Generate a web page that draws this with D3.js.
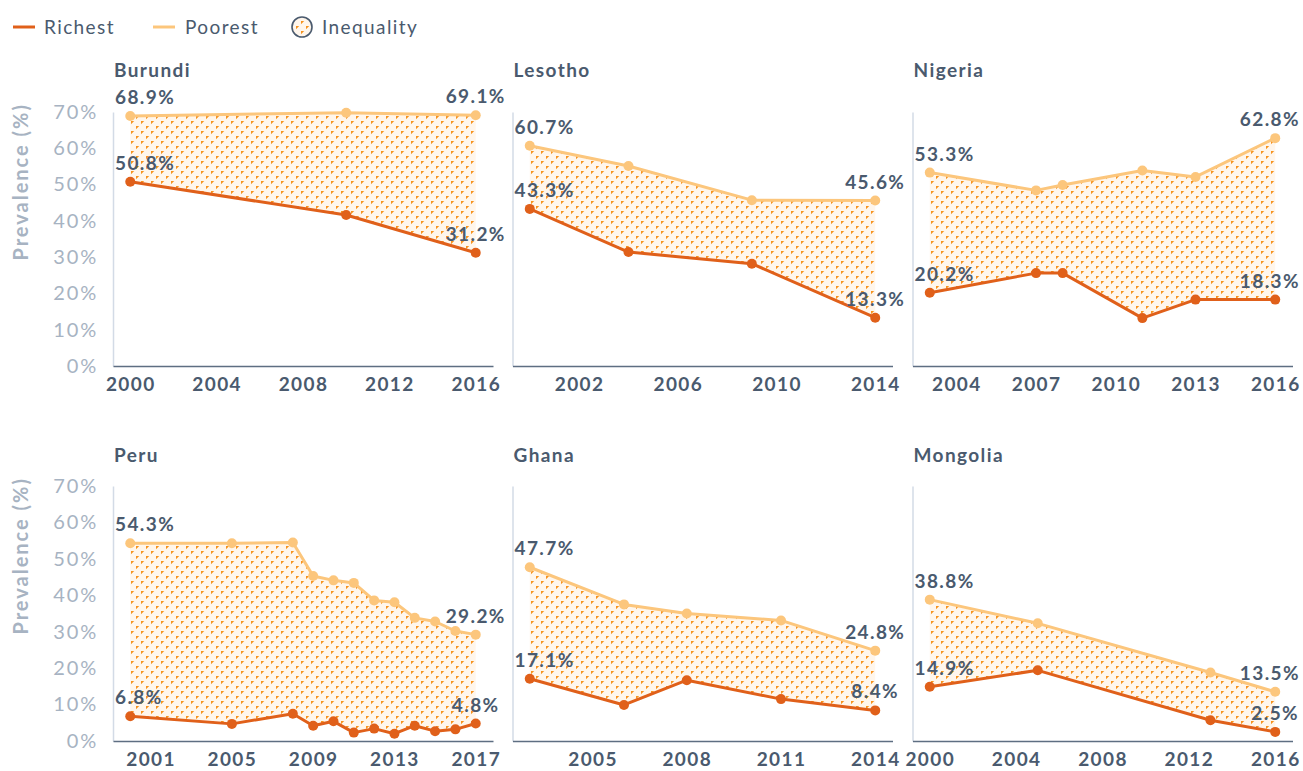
<!DOCTYPE html>
<html><head><meta charset="utf-8">
<script src="https://cdn.jsdelivr.net/npm/d3@7/dist/d3.min.js"></script>
<style>
body{margin:0;background:#fff;}
svg{font-family:Lato,"Noto Sans",sans-serif;}
</style>
</head><body>
<svg id="chart" width="1303" height="771"></svg>
<script>
// ---------------- data ----------------
const seriesNames = ["Richest", "Poorest", "Inequality"];
const countries = ["Burundi", "Lesotho", "Nigeria", "Peru", "Ghana", "Mongolia"];
const yTicks = [0, 10, 20, 30, 40, 50, 60, 70];

const burundiYears   = [2000, 2010, 2016];
const burundiRichest = [50.8, 41.6, 31.2];
const burundiPoorest = [68.9, 69.8, 69.1];
const burundiTicks   = [2000, 2004, 2008, 2012, 2016];

const lesothoYears   = [2000, 2004, 2009, 2014];
const lesothoRichest = [43.3, 31.4, 28.2, 13.3];
const lesothoPoorest = [60.7, 55.1, 45.7, 45.6];
const lesothoTicks   = [2002, 2006, 2010, 2014];

const nigeriaYears   = [2003, 2007, 2008, 2011, 2013, 2016];
const nigeriaRichest = [20.2, 25.6, 25.6, 13.2, 18.3, 18.3];
const nigeriaPoorest = [53.3, 48.4, 49.9, 53.9, 52.1, 62.8];
const nigeriaTicks   = [2004, 2007, 2010, 2013, 2016];

const peruYears   = [2000, 2005, 2008, 2009, 2010, 2011, 2012, 2013, 2014, 2015, 2016, 2017];
const peruRichest = [6.8, 4.7, 7.5, 4.2, 5.4, 2.3, 3.4, 2.0, 4.2, 2.7, 3.2, 4.8];
const peruPoorest = [54.3, 54.3, 54.5, 45.3, 44.1, 43.4, 38.6, 38.1, 33.8, 32.8, 30.2, 29.2];
const peruTicks   = [2001, 2005, 2009, 2013, 2017];

const ghanaYears   = [2003, 2006, 2008, 2011, 2014];
const ghanaRichest = [17.1, 9.9, 16.7, 11.5, 8.4];
const ghanaPoorest = [47.7, 37.5, 35.0, 33.1, 24.8];
const ghanaTicks   = [2005, 2008, 2011, 2014];

const mongoliaYears   = [2000, 2005, 2013, 2016];
const mongoliaRichest = [14.9, 19.4, 5.7, 2.5];
const mongoliaPoorest = [38.8, 32.3, 18.8, 13.5];
const mongoliaTicks   = [2000, 2004, 2008, 2012, 2016];

const panelData = [
  {name: countries[0], years: burundiYears,  richest: burundiRichest,  poorest: burundiPoorest,  ticks: burundiTicks},
  {name: countries[1], years: lesothoYears,  richest: lesothoRichest,  poorest: lesothoPoorest,  ticks: lesothoTicks},
  {name: countries[2], years: nigeriaYears,  richest: nigeriaRichest,  poorest: nigeriaPoorest,  ticks: nigeriaTicks},
  {name: countries[3], years: peruYears,     richest: peruRichest,     poorest: peruPoorest,     ticks: peruTicks},
  {name: countries[4], years: ghanaYears,    richest: ghanaRichest,    poorest: ghanaPoorest,    ticks: ghanaTicks},
  {name: countries[5], years: mongoliaYears, richest: mongoliaRichest, poorest: mongoliaPoorest, ticks: mongoliaTicks}
];

// ---------------- style ----------------
const C = {
  richest: "#e0601a",
  poorest: "#fcc67c",
  text: "#4a5a6e",
  tick: "#a7b3c2",
  axisLeft: "#d3dbe6",
  axisBottom: "#5e6e82",
  patBg: "#fff6ec",
  patFg: "#f7931e"
};
const LS = "1.4px";
const W = 1303;
const colLefts = [113, 512.5, 912.5];
const plotW = 380;
const rows = [{top: 112, bottom: 366, title: 77}, {top: 486, bottom: 741, title: 462}];

const svg = d3.select("#chart");
const defs = svg.append("defs");
const pat = defs.append("pattern").attr("id", "dots").attr("patternUnits", "userSpaceOnUse")
  .attr("width", 10).attr("height", 10);
pat.append("rect").attr("width", 10).attr("height", 10).attr("fill", C.patBg);
pat.append("path").attr("d", "M1,1 h3.2 l-3.2,3.2 Z M6,6 h3.2 l-3.2,3.2 Z").attr("fill", C.patFg);

// ---------------- legend ----------------
const lg = svg.append("g").attr("class", "legend").attr("letter-spacing", LS);
lg.append("line").attr("x1", 13).attr("x2", 35).attr("y1", 27).attr("y2", 27)
  .attr("stroke", C.richest).attr("stroke-width", 3);
lg.append("text").attr("x", 44).attr("y", 27).attr("dy", "0.35em").attr("font-size", 19)
  .attr("fill", C.text).text(seriesNames[0]);
lg.append("line").attr("x1", 153).attr("x2", 175).attr("y1", 27).attr("y2", 27)
  .attr("stroke", C.poorest).attr("stroke-width", 3);
lg.append("text").attr("x", 185).attr("y", 27).attr("dy", "0.35em").attr("font-size", 19)
  .attr("fill", C.text).text(seriesNames[1]);
lg.append("circle").attr("cx", 302).attr("cy", 27).attr("r", 10)
  .attr("fill", "url(#dots)").attr("stroke", C.text).attr("stroke-width", 1.6);
lg.append("text").attr("x", 322).attr("y", 27).attr("dy", "0.35em").attr("font-size", 19)
  .attr("fill", C.text).text(seriesNames[2]);

// ---------------- panels ----------------
panelData.forEach((p, i) => {
  const row = rows[Math.floor(i / 3)];
  const col = i % 3;
  const left = colLefts[col];
  const ext = d3.extent(p.years);
  const pad = (ext[1] - ext[0]) * 0.05;
  const x = d3.scaleLinear().domain([ext[0] - pad, ext[1] + pad]).range([left, left + plotW]);
  const y = d3.scaleLinear().domain([0, 70]).range([row.bottom, row.top]);
  const g = svg.append("g").attr("class", "panel");
  const pts = p.years.map((yr, k) => ({yr, r: p.richest[k], p: p.poorest[k]}));

  // title
  g.append("text").attr("x", left + 1).attr("y", row.title).attr("font-size", 19)
    .attr("letter-spacing", LS)
    .attr("font-weight", 700).attr("fill", C.text).text(p.name);

  // y axis
  const ya = g.append("g").attr("transform", `translate(${left},0)`)
    .call(d3.axisLeft(y).tickValues(col === 0 ? yTicks : []).tickSize(0).tickPadding(15)
      .tickFormat(d => d + "%"));
  ya.select(".domain").attr("stroke", C.axisLeft).attr("stroke-width", 1.5);
  ya.selectAll("text").attr("font-size", 20).attr("font-weight", 400).attr("fill", C.tick)
    .attr("font-family", "Lato").attr("letter-spacing", "1.8px");
  if (col === 0) {
    g.append("text").attr("transform", `translate(28,${row.top - 9}) rotate(-90)`)
      .attr("text-anchor", "end").attr("font-size", 20).attr("font-weight", 700)
      .attr("letter-spacing", "2px")
      .attr("fill", C.tick).text("Prevalence (%)");
  }

  // x axis
  const xa = g.append("g").attr("transform", `translate(0,${row.bottom})`)
    .call(d3.axisBottom(x).tickValues(p.ticks).tickSize(0).tickPadding(12).tickFormat(d3.format("d")));
  xa.select(".domain").attr("stroke", C.axisBottom).attr("stroke-width", 1.5);
  xa.selectAll("text").attr("font-size", 19).attr("font-weight", 700).attr("fill", C.text)
    .attr("font-family", "Lato").attr("letter-spacing", LS);

  // area
  g.append("path").datum(pts).attr("fill", "url(#dots)")
    .attr("d", d3.area().x(d => x(d.yr)).y0(d => y(d.r)).y1(d => y(d.p)));

  // lines
  g.append("path").datum(pts).attr("fill", "none").attr("stroke", C.poorest).attr("stroke-width", 3)
    .attr("stroke-linejoin", "round").attr("d", d3.line().x(d => x(d.yr)).y(d => y(d.p)));
  g.append("path").datum(pts).attr("fill", "none").attr("stroke", C.richest).attr("stroke-width", 3)
    .attr("stroke-linejoin", "round").attr("d", d3.line().x(d => x(d.yr)).y(d => y(d.r)));

  g.selectAll("circle.p").data(pts).join("circle").attr("class", "p")
    .attr("cx", d => x(d.yr)).attr("cy", d => y(d.p)).attr("r", 5).attr("fill", C.poorest);
  g.selectAll("circle.r").data(pts).join("circle").attr("class", "r")
    .attr("cx", d => x(d.yr)).attr("cy", d => y(d.r)).attr("r", 5).attr("fill", C.richest);

  // value labels
  const first = pts[0], last = pts[pts.length - 1];
  const fmt = v => v.toFixed(1) + "%";
  [["p", first], ["r", first]].forEach(([k, d]) => {
    g.append("text").attr("x", left + 2).attr("y", y(d[k]) - 12).attr("letter-spacing", LS)
      .attr("font-size", 19).attr("font-weight", 700).attr("fill", C.text).text(fmt(d[k]));
  });
  [["p", last], ["r", last]].forEach(([k, d]) => {
    const t = g.append("text").attr("x", x(d.yr)).attr("y", y(d[k]) - 12).attr("text-anchor", "middle")
      .attr("letter-spacing", LS)
      .attr("font-size", 19).attr("font-weight", 700).attr("fill", C.text).text(fmt(d[k]));
    const w = t.node().getComputedTextLength();
    if (x(d.yr) + w / 2 > W - 3) t.attr("x", W - 3 - w / 2);
  });
});
</script>
</body></html>
